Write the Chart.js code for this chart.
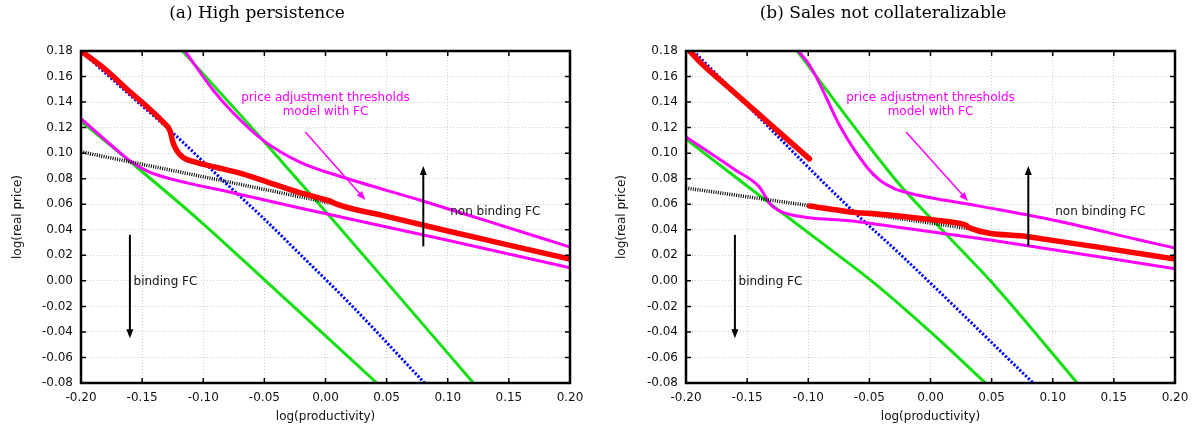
<!DOCTYPE html>
<html>
<head>
<meta charset="utf-8">
<script src="https://cdn.jsdelivr.net/npm/chart.js@4.4.1/dist/chart.umd.min.js"></script>
<style>
body{margin:0;background:#fff;}
#wrap{position:relative;width:1199px;height:432px;overflow:hidden;}
canvas{position:absolute;top:0;}
#chartA{left:0;}
#chartB{left:600px;}
</style>
</head>
<body>
<div id="wrap">
<canvas id="chartA" width="600" height="432"></canvas>
<canvas id="chartB" width="599" height="432"></canvas>
</div>
<script>
// axis ticks
var xTicks = [-0.2, -0.15, -0.1, -0.05, 0, 0.05, 0.1, 0.15, 0.2];
var yTicks = [-0.08, -0.06, -0.04, -0.02, 0, 0.02, 0.04, 0.06, 0.08, 0.1, 0.12, 0.14, 0.16, 0.18];

// (a) high persistence  -- [log(productivity), log(real price)]
var aRed = [[-0.2,0.18],[-0.18,0.1655],[-0.16,0.148],[-0.145,0.1355],[-0.133,0.1245],[-0.127,0.117],[-0.125,0.109],[-0.122,0.1025],[-0.117,0.097],[-0.105,0.0925],[-0.089,0.0888],[-0.07,0.0843],[-0.048,0.0775],[-0.021,0.069],[0.0,0.0635],[0.005,0.062],[0.008,0.0605],[0.05,0.0505],[0.1,0.039],[0.15,0.028],[0.2,0.017]];
var aBlack = [[-0.2,0.101],[-0.1,0.0815],[0.006,0.0605]];
var aBlue = [[-0.2,0.18],[-0.16,0.1455],[-0.125,0.116],[-0.086,0.0805],[-0.048,0.0465],[-0.021,0.021],[0.02,-0.018],[0.081,-0.08]];
var aGreenLow = [[-0.2,0.125],[-0.16,0.0935],[-0.104,0.048],[-0.049,0.0],[0.042,-0.08]];
var aGreenHigh = [[-0.117,0.18],[-0.051,0.110],[0.004,0.050],[0.05,-0.001],[0.121,-0.08]];
var aMagHigh = [[-0.115,0.18],[-0.092,0.1495],[-0.075,0.131],[-0.051,0.110],[-0.021,0.093],[0.013,0.0815],[0.077,0.0633],[0.13,0.0475],[0.181,0.0322],[0.2,0.0265]];
var aMagLow = [[-0.2,0.127],[-0.175,0.106],[-0.16,0.094],[-0.145,0.0855],[-0.125,0.0795],[-0.076,0.069],[-0.021,0.057],[0.099,0.032],[0.2,0.0102]];

// (b) sales not collateralizable
var bRed1 = [[-0.197,0.18],[-0.186,0.169],[-0.17,0.1555],[-0.099,0.0955]];
var bRed2 = [[-0.099,0.0586],[-0.066,0.054],[-0.041,0.0522],[0.0,0.048],[0.024,0.045],[0.029,0.0435],[0.032,0.0415],[0.08,0.0345],[0.14,0.026],[0.2,0.017]];
var bBlack = [[-0.2,0.0727],[-0.1,0.059],[0.031,0.041]];
var bBlue = [[-0.194,0.18],[-0.139,0.127],[-0.099,0.088],[-0.066,0.057],[-0.025,0.021],[0.084,-0.08]];
var bGreenLow = [[-0.2,0.111],[-0.134,0.0625],[-0.09,0.0305],[-0.047,-0.001],[0.0,-0.04],[0.045,-0.08]];
var bGreenHigh = [[-0.109,0.18],[-0.041,0.094],[-0.025,0.075],[0.0173,0.032],[0.049,0.0],[0.12,-0.08]];
var bMagHigh = [[-0.108,0.18],[-0.099,0.169],[-0.091,0.155],[-0.074,0.121],[-0.052,0.089],[-0.041,0.0785],[-0.03,0.0725],[-0.017,0.0686],[0.04,0.0585],[0.1,0.0477],[0.171,0.032],[0.2,0.0257]];
var bMagLow = [[-0.2,0.1127],[-0.16,0.087],[-0.14,0.0735],[-0.135,0.066],[-0.131,0.060],[-0.125,0.0555],[-0.115,0.052],[-0.099,0.0495],[-0.066,0.047],[-0.041,0.044],[0.049,0.032],[0.2,0.0095]];

var RED = '#ff0000', BLK = '#000000', BLUE = '#0000ff', GRN = '#14e014', MAG = '#ff00ff';
var SANS = '"DejaVu Sans", Verdana, sans-serif';

function pts(a){ return a.map(function(p){ return {x:p[0], y:p[1]}; }); }

function series(a, color, width, dash){
    return {
        data: pts(a),
        borderColor: color,
        borderWidth: width,
        borderDash: dash || [],
        borderCapStyle: dash ? 'butt' : 'round',
        pointRadius: 0,
        fill: false,
        cubicInterpolationMode: 'monotone'
    };
}

function fmt(v){ return Math.abs(v) < 1e-9 ? '0.00' : v.toFixed(2); }

// frame, inward tick marks, arrows, labels and panel title
var decor = {
    id: 'decor',
    afterDraw: function(chart, args, o){
        var ctx = chart.ctx, a = chart.chartArea, sx = chart.scales.x, sy = chart.scales.y;
        ctx.save();
        ctx.strokeStyle = '#000';
        ctx.lineWidth = 1.5;
        ctx.beginPath();
        xTicks.forEach(function(t){
            var px = sx.getPixelForValue(t);
            ctx.moveTo(px, a.bottom); ctx.lineTo(px, a.bottom - 5);
            ctx.moveTo(px, a.top); ctx.lineTo(px, a.top + 5);
        });
        yTicks.forEach(function(t){
            var py = sy.getPixelForValue(t);
            ctx.moveTo(a.left, py); ctx.lineTo(a.left + 5, py);
            ctx.moveTo(a.right, py); ctx.lineTo(a.right - 5, py);
        });
        ctx.stroke();
        ctx.lineWidth = 2.5;
        ctx.strokeRect(a.left, a.top, a.right - a.left, a.bottom - a.top);

        o.arrows.forEach(function(r){
            var x1 = sx.getPixelForValue(r.from[0]), y1 = sy.getPixelForValue(r.from[1]);
            var x2 = sx.getPixelForValue(r.to[0]), y2 = sy.getPixelForValue(r.to[1]);
            var ang = Math.atan2(y2 - y1, x2 - x1), L = 9, W = 3.5;
            ctx.strokeStyle = r.color; ctx.fillStyle = r.color; ctx.lineWidth = r.width;
            ctx.beginPath();
            ctx.moveTo(x1, y1);
            ctx.lineTo(x2 - Math.cos(ang) * (L - 1), y2 - Math.sin(ang) * (L - 1));
            ctx.stroke();
            ctx.beginPath();
            ctx.moveTo(x2, y2);
            ctx.lineTo(x2 - Math.cos(ang) * L - Math.sin(ang) * W, y2 - Math.sin(ang) * L + Math.cos(ang) * W);
            ctx.lineTo(x2 - Math.cos(ang) * L + Math.sin(ang) * W, y2 - Math.sin(ang) * L - Math.cos(ang) * W);
            ctx.closePath();
            ctx.fill();
        });

        ctx.font = '12px ' + SANS;
        ctx.textBaseline = 'middle';
        o.labels.forEach(function(l){
            ctx.fillStyle = l.color;
            ctx.textAlign = l.align;
            ctx.fillText(l.text, sx.getPixelForValue(l.x), sy.getPixelForValue(l.y));
        });

        ctx.font = '17px "DejaVu Serif", "Liberation Serif", serif';
        ctx.fillStyle = '#000';
        ctx.textAlign = 'center';
        ctx.fillText(o.title, o.titleX, 14);
        ctx.restore();
    }
};

function makeChart(id, sets, opt){
    return new Chart(document.getElementById(id), {
        type: 'line',
        data: { datasets: sets },
        plugins: [decor],
        options: {
            responsive: false,
            animation: false,
            events: [],
            layout: { padding: { left: 0, right: opt.padRight, top: 51, bottom: 0 } },
            plugins: {
                legend: { display: false },
                tooltip: { enabled: false },
                decor: opt.decor
            },
            scales: {
                x: {
                    type: 'linear', min: -0.2, max: 0.2,
                    afterBuildTicks: function(s){ s.ticks = xTicks.map(function(v){ return {value: v}; }); },
                    afterFit: function(s){ s.height = 49; },
                    ticks: { autoSkip: false, maxRotation: 0, padding: 8, color: '#111', font: { family: SANS, size: 12 }, callback: fmt },
                    grid: { color: '#cccccc', lineWidth: 1, drawTicks: false },
                    border: { display: false, dash: [1, 2] },
                    title: { display: true, text: 'log(productivity)', color: '#111', font: { family: SANS, size: 12 }, padding: { top: 0, bottom: 8 } }
                },
                y: {
                    type: 'linear', min: -0.08, max: 0.18,
                    afterBuildTicks: function(s){ s.ticks = yTicks.map(function(v){ return {value: v}; }); },
                    afterFit: function(s){ s.width = opt.yWidth; },
                    ticks: { autoSkip: false, padding: 8, color: '#111', font: { family: SANS, size: 12 }, callback: fmt },
                    grid: { color: '#cccccc', lineWidth: 1, drawTicks: false },
                    border: { display: false, dash: [1, 2] },
                    title: { display: true, text: 'log(real price)', color: '#111', font: { family: SANS, size: 12 }, padding: { top: opt.yTitlePad, bottom: 0 } }
                }
            }
        }
    });
}

function annot(title, titleX, arrowFrom, arrowTo){
    return {
        title: title,
        titleX: titleX,
        arrows: [
            { from: arrowFrom, to: arrowTo, color: MAG, width: 1.5 },
            { from: [0.08, 0.027], to: [0.08, 0.090], color: BLK, width: 2 },
            { from: [-0.16, 0.036], to: [-0.16, -0.045], color: BLK, width: 2 }
        ],
        labels: [
            { text: 'price adjustment thresholds', x: 0.0, y: 0.1435, color: MAG, align: 'center' },
            { text: 'model with FC', x: 0.0, y: 0.132, color: MAG, align: 'center' },
            { text: 'non binding FC', x: 0.102, y: 0.054, color: '#111', align: 'left' },
            { text: 'binding FC', x: -0.157, y: -0.001, color: '#111', align: 'left' }
        ]
    };
}

makeChart('chartA', [
    series(aRed, RED, 5.5),
    series(aBlack, BLK, 3.5, [1, 1.3]),
    series(aMagHigh, MAG, 3),
    series(aMagLow, MAG, 3),
    series(aBlue, BLUE, 3, [2.2, 1.8]),
    series(aGreenLow, GRN, 3),
    series(aGreenHigh, GRN, 3)
], { padRight: 30, yWidth: 81, yTitlePad: 11,
     decor: annot('(a) High persistence', 257, [-0.0165, 0.1166], [0.0326, 0.0633]) });

makeChart('chartB', [
    series(bRed1, RED, 5.5),
    series(bRed2, RED, 5.5),
    series(bBlack, BLK, 3.5, [1, 1.3]),
    series(bMagHigh, MAG, 3),
    series(bMagLow, MAG, 3),
    series(bBlue, BLUE, 3, [2.2, 1.8]),
    series(bGreenLow, GRN, 3),
    series(bGreenHigh, GRN, 3)
], { padRight: 24, yWidth: 86, yTitlePad: 15,
     decor: annot('(b) Sales not collateralizable', 283, [-0.020, 0.1166], [0.0307, 0.0625]) });
</script>
</body>
</html>
